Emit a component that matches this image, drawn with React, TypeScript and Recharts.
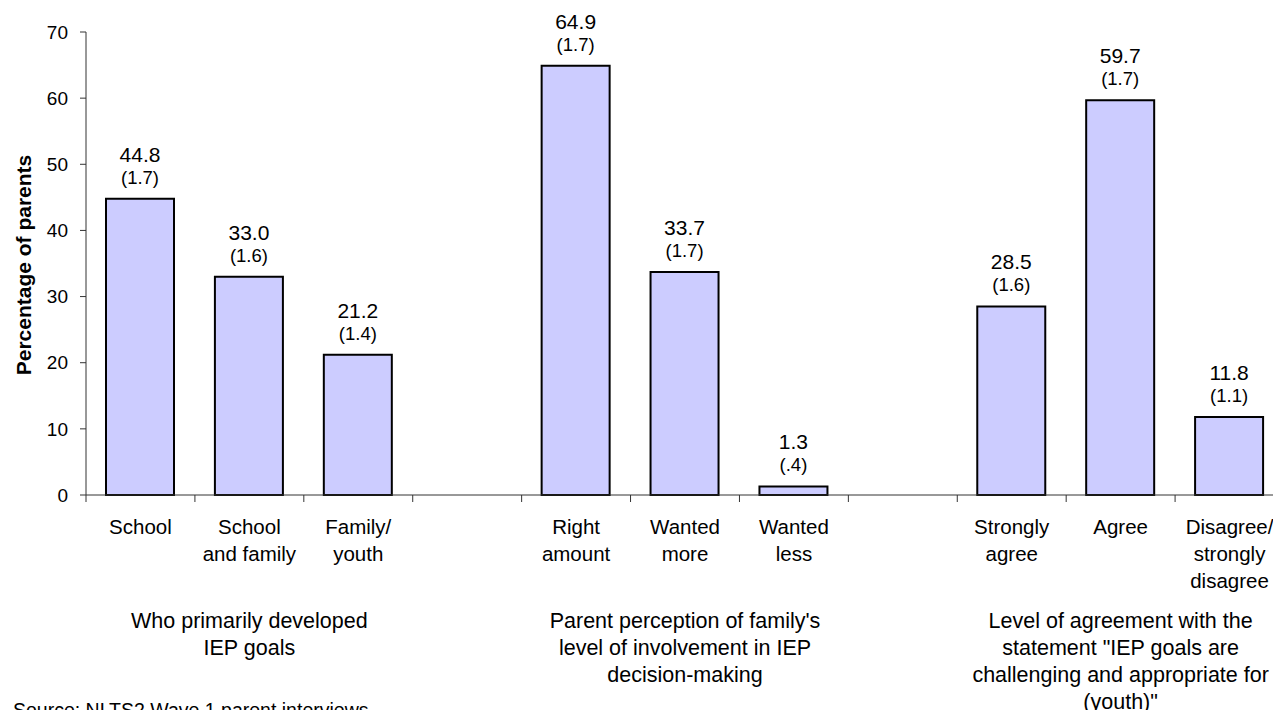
import { BarChart, Bar, XAxis, YAxis, LabelList } from "recharts";

// categories (gaps separate the three question groups)
const CATEGORIES = [
  "School",
  "School and family",
  "Family/ youth",
  "gap1",
  "Right amount",
  "Wanted more",
  "Wanted less",
  "gap2",
  "Strongly agree",
  "Agree",
  "Disagree/ strongly disagree",
];

const TICK_LINES = [
  ["School"],
  ["School", "and family"],
  ["Family/", "youth"],
  [],
  ["Right", "amount"],
  ["Wanted", "more"],
  ["Wanted", "less"],
  [],
  ["Strongly", "agree"],
  ["Agree"],
  ["Disagree/", "strongly", "disagree"],
];

const PERCENTS = [44.8, 33.0, 21.2, null, 64.9, 33.7, 1.3, null, 28.5, 59.7, 11.8];
const STD_ERRORS = ["1.7", "1.6", "1.4", "", "1.7", "1.7", ".4", "", "1.6", "1.7", "1.1"];

const GROUP_LABELS: { [index: number]: string[] } = {
  1: ["Who primarily developed", "IEP goals"],
  5: ["Parent perception of family's", "level of involvement in IEP", "decision-making"],
  9: [
    "Level of agreement with the",
    'statement "IEP goals are',
    "challenging and appropriate for",
    '(youth)"',
  ],
};

const Y_TICKS = [0, 10, 20, 30, 40, 50, 60, 70];

const data = CATEGORIES.map((name, i) => ({
  name,
  value: PERCENTS[i],
  se: STD_ERRORS[i],
}));

const FONT = "Arial, 'Liberation Sans', sans-serif";
const CHART_W = 1300;
const CHART_H = 760;
const MARGIN = { top: 32, right: 16, left: 0, bottom: 0 };
const Y_AXIS_W = 86;
const BAND = (CHART_W - MARGIN.left - MARGIN.right - Y_AXIS_W) / CATEGORIES.length;

function CategoryTick(props: any) {
  const { x, y, index } = props;
  const lines = TICK_LINES[index] || [];
  const group = GROUP_LABELS[index];
  const left = x - BAND / 2;
  return (
    <g>
      <line x1={left} y1={y} x2={left} y2={y + 7} stroke="#333" strokeWidth={1} />
      {index === CATEGORIES.length - 1 && (
        <line x1={x + BAND / 2} y1={y} x2={x + BAND / 2} y2={y + 7} stroke="#333" />
      )}
      {lines.map((t, i) => (
        <text
          key={i}
          x={x}
          y={y + 39 + i * 27}
          textAnchor="middle"
          fontSize={20.5}
          fontFamily={FONT}
          fill="#000"
        >
          {t}
        </text>
      ))}
      {group &&
        group.map((t, i) => (
          <text
            key={"g" + i}
            x={x}
            y={y + 133 + i * 27}
            textAnchor="middle"
            fontSize={21.5}
            fontFamily={FONT}
            fill="#000"
          >
            {t}
          </text>
        ))}
    </g>
  );
}

function ValueLabel(props: any) {
  const { x, y, width, value } = props;
  const i = CATEGORIES.indexOf(value);
  if (i < 0 || PERCENTS[i] == null) return null;
  const cx = x + width / 2;
  return (
    <g>
      <text x={cx} y={y - 37} textAnchor="middle" fontSize={21} fontFamily={FONT} fill="#000">
        {PERCENTS[i]!.toFixed(1)}
      </text>
      <text x={cx} y={y - 15} textAnchor="middle" fontSize={18.5} fontFamily={FONT} fill="#000">
        ({STD_ERRORS[i]})
      </text>
    </g>
  );
}

function YTitle() {
  return (
    <text
      x={23}
      y={265}
      transform="rotate(-90, 23, 265)"
      textAnchor="middle"
      dominantBaseline="central"
      fontSize={21}
      fontWeight="bold"
      fontFamily={FONT}
      fill="#000"
    >
      Percentage of parents
    </text>
  );
}

export default function App() {
  return (
    <div
      style={{
        position: "fixed",
        top: 0,
        left: 0,
        width: 1273,
        height: 710,
        overflow: "hidden",
        background: "#fff",
      }}
    >
      <BarChart width={CHART_W} height={CHART_H} data={data} margin={MARGIN}>
        <YAxis
          width={Y_AXIS_W}
          domain={[0, 70]}
          ticks={Y_TICKS}
          interval={0}
          tickSize={6}
          tickMargin={12}
          axisLine={{ stroke: "#333" }}
          tickLine={{ stroke: "#333" }}
          tick={{ fontSize: 19, fontFamily: FONT, fill: "#000" }}
          label={<YTitle />}
        />
        <XAxis
          dataKey="name"
          height={CHART_H - MARGIN.top - 463}
          interval={0}
          tickSize={0}
          tickMargin={0}
          tickLine={false}
          axisLine={{ stroke: "#333" }}
          tick={<CategoryTick />}
        />
        <Bar
          dataKey="value"
          barSize={68}
          fill="#CCCCFF"
          stroke="#000"
          strokeWidth={2}
          isAnimationActive={false}
        >
          <LabelList dataKey="name" content={<ValueLabel />} />
        </Bar>
      </BarChart>
      <svg
        width={1273}
        height={760}
        style={{ position: "absolute", left: 0, top: 0, pointerEvents: "none" }}
      >
        <text x={13} y={717} fontSize={19.5} fontFamily={FONT} fill="#000">
          Source: NLTS2 Wave 1 parent interviews.
        </text>
      </svg>
    </div>
  );
}
